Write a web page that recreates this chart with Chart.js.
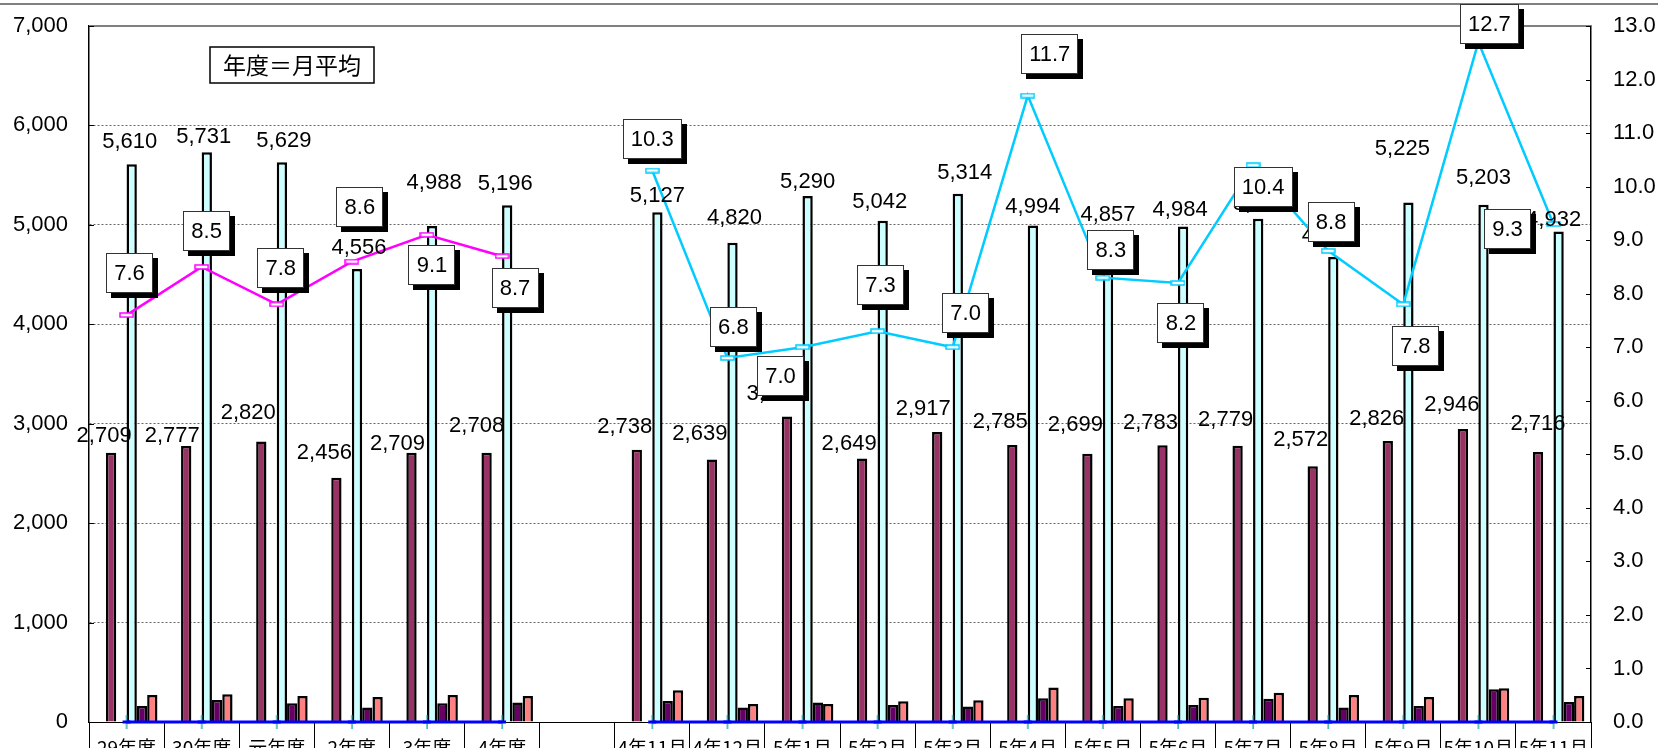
<!DOCTYPE html>
<html lang="ja">
<head>
<meta charset="utf-8">
<script src="https://cdn.jsdelivr.net/npm/chart.js@4.4.1/dist/chart.umd.min.js"></script>
<style>
  html, body { margin: 0; padding: 0; background: #fff; overflow: hidden; }
  #wrap { width: 1658px; height: 748px; }
</style>
</head>
<body>
<div id="wrap"><canvas id="chart" width="1658" height="748"></canvas></div>
<script>
// ---------------------------------------
// Data.
const categories = ["29年度", "30年度", "元年度", "2年度", "3年度", "4年度", "",
  "4年11月", "4年12月", "5年1月", "5年2月", "5年3月", "5年4月", "5年5月",
  "5年6月", "5年7月", "5年8月", "5年9月", "5年10月", "5年11月"];
const maroonValues = [2709, 2777, 2820, 2456, 2709, 2708, null,
  2738, 2639, 3073, 2649, 2917, 2785, 2699, 2783, 2779, 2572, 2826, 2946, 2716];
const cyanValues = [5610, 5731, 5629, 4556, 4988, 5196, null,
  5127, 4820, 5290, 5042, 5314, 4994, 4857, 4984, 5062, 4677, 5225, 5203, 4932];
const purpleValues = [161, 221, 188, 145, 188, 195, null,
  211, 145, 195, 171, 155, 238, 161, 171, 235, 145, 161, 329, 201];
const salmonValues = [272, 279, 262, 252, 272, 262, null,
  319, 181, 181, 208, 218, 346, 238, 245, 295, 272, 252, 339, 262];
const baseValues = [0, 0, 0, 0, 0, 0, null,
  0, 0, 0, 0, 0, 0, 0, 0, 0, 0, 0, 0, 0];
const yearRatio = [7.6, 8.5, 7.8, 8.6, 9.1, 8.7, null,
  null, null, null, null, null, null, null, null, null, null, null, null, null];
const monthRatio = [null, null, null, null, null, null, null,
  10.3, 6.8, 7.0, 7.3, 7.0, 11.7, 8.3, 8.2, 10.4, 8.8, 7.8, 12.7, 9.3];
const leftMax = 7000, leftStep = 1000;
const rightMax = 13, rightStep = 1;
const spacer = new Array(categories.length).fill(null); // empty bar slot

// ---------------------------------------
// Label placement (offsets from the bar top / line point, px).
const maroonLabelShift = [[-7, -17], [-14, -10], [-13, -29], [-12, -25], [-14, -9], [-10, -27], null,
  [-12, -23], [-12, -26], [-13, -23], [-13, -15], [-14, -23], [-12, -23], [-12, -29],
  [-12, -22], [-12, -26], [-12, -26], [-11, -22], [-11, -24], [0, -28]];
const cyanLabelShift = [[-2, -22], [-3, -15], [2, -21], [2, -21], [2, -43], [-2, -21], null,
  [0, -16], [2, -25], [0, -14], [-3, -19], [7, -21], [0, -19], [0, -24],
  [-3, -17], [2, -15], [-4, -21], [-6, -54], [0, -27], [-5, -12]];
const yearBoxShift = [[3, -42], [5, -36], [4, -36], [8, -55], [5, 30], [13, 32], null,
  null, null, null, null, null, null, null, null, null, null, null, null, null];
const monthBoxShift = [null, null, null, null, null, null, null,
  [0, -32], [6, -31], [-22, 29], [3, -46], [13, -34], [22, -42], [8, -28],
  [3, 40], [10, 22], [3, -29], [12, 42], [11, -18], [-46, 5]];

const NUM_FONT = "'Liberation Sans', Arial, sans-serif";
const JP_FONT = "'Noto Sans CJK JP', 'Noto Sans', sans-serif";

function hollowMarker(color) {
  let c = document.createElement("canvas");
  c.width = 15;
  c.height = 6;
  let g = c.getContext("2d");
  g.fillStyle = "#fff";
  g.fillRect(1, 1, 13, 4);
  g.strokeStyle = color;
  g.lineWidth = 1.5;
  g.strokeRect(1, 1, 13, 4);
  return c;
}
function baseMarker() {
  let c = document.createElement("canvas");
  c.width = 12;
  c.height = 14;
  let g = c.getContext("2d");
  g.fillStyle = "#009999";
  g.fillRect(5.5, 0, 1.2, 14);
  g.fillStyle = "#0000FF";
  g.fillRect(2, 5.5, 8, 3);
  return c;
}

// ---------------------------------------
// Labels, boxes and frame pieces.
const decorations = {
  id: "decorations",
  beforeDraw(chart) {
    let ctx = chart.ctx;
    ctx.save();
    ctx.strokeStyle = "#808080";
    ctx.lineWidth = 2;
    ctx.beginPath();
    ctx.moveTo(0, 4);
    ctx.lineTo(chart.width, 4);
    ctx.stroke();
    ctx.restore();
  },
  afterDatasetsDraw(chart) {
    let ctx = chart.ctx;
    let area = chart.chartArea;
    ctx.save();
    // top frame line of the plot
    ctx.strokeStyle = "#808080";
    ctx.lineWidth = 2;
    ctx.beginPath();
    ctx.moveTo(area.left, area.top);
    ctx.lineTo(area.right, area.top);
    ctx.stroke();

    // inner tick marks on both value axes
    ctx.strokeStyle = "#000";
    ctx.lineWidth = 1;
    let y = chart.scales.y;
    for (let v = 0; v <= leftMax; v += leftStep) {
      let p = Math.round(y.getPixelForValue(v)) + 0.5;
      ctx.beginPath();
      ctx.moveTo(area.left, p);
      ctx.lineTo(area.left + 5, p);
      ctx.stroke();
    }
    let y2 = chart.scales.y2;
    for (let v = 0; v <= rightMax; v += rightStep) {
      let p = Math.round(y2.getPixelForValue(v)) + 0.5;
      ctx.beginPath();
      ctx.moveTo(area.right - 5, p);
      ctx.lineTo(area.right, p);
      ctx.stroke();
    }

    // bar value labels
    ctx.font = "22px " + NUM_FONT;
    ctx.fillStyle = "#000";
    ctx.textAlign = "center";
    ctx.textBaseline = "middle";
    let barSets = [[1, maroonValues, maroonLabelShift], [3, cyanValues, cyanLabelShift]];
    for (let s = 0; s < barSets.length; s++) {
      let meta = chart.getDatasetMeta(barSets[s][0]);
      let values = barSets[s][1];
      let shift = barSets[s][2];
      meta.data.forEach((el, i) => {
        if (values[i] == null || !shift[i]) return;
        ctx.fillText(values[i].toLocaleString("en-US"), el.x + shift[i][0], el.y + shift[i][1]);
      });
    }

    // boxed labels of the two ratio lines
    let boxSets = [[6, yearRatio, yearBoxShift], [7, monthRatio, monthBoxShift]];
    for (let s = 0; s < boxSets.length; s++) {
      let meta = chart.getDatasetMeta(boxSets[s][0]);
      let values = boxSets[s][1];
      let shift = boxSets[s][2];
      meta.data.forEach((el, i) => {
        if (values[i] == null || !shift[i]) return;
        let text = values[i].toFixed(1);
        let w = Math.round(ctx.measureText(text).width) + 16;
        let h = 40;
        let cx = el.x + shift[i][0];
        let cy = el.y + shift[i][1];
        let x0 = Math.round(cx - w / 2);
        let y0 = Math.round(cy - h / 2);
        ctx.fillStyle = "#000";
        ctx.fillRect(x0 + 5, y0 + 5, w, h);
        ctx.fillStyle = "#fff";
        ctx.fillRect(x0, y0, w, h);
        ctx.strokeStyle = "#333";
        ctx.lineWidth = 1;
        ctx.strokeRect(x0 + 0.5, y0 + 0.5, w - 1, h - 1);
        ctx.fillStyle = "#000";
        ctx.fillText(text, cx, cy + 1);
      });
    }

    // note box
    ctx.fillStyle = "#fff";
    ctx.fillRect(area.left + 121, area.top + 21, 164, 36);
    ctx.strokeStyle = "#000";
    ctx.lineWidth = 1.5;
    ctx.strokeRect(area.left + 121, area.top + 21, 164, 36);
    ctx.fillStyle = "#000";
    ctx.font = "23px " + JP_FONT;
    ctx.fillText("年度＝月平均", area.left + 203, area.top + 39);
    ctx.restore();
  },
};

let canvas = document.getElementById("chart");
let chart = new Chart(canvas, {
  data: {
    labels: categories,
    datasets: [
      { type: "bar", label: "", data: spacer, yAxisID: "y", order: 1 },
      { type: "bar", label: "A", data: maroonValues, backgroundColor: "#993366",
        borderColor: "#000", borderWidth: 2.5, yAxisID: "y", order: 1 },
      { type: "bar", label: "", data: spacer, yAxisID: "y", order: 1 },
      { type: "bar", label: "B", data: cyanValues, backgroundColor: "#CCFFFF",
        borderColor: "#000", borderWidth: 2.5, yAxisID: "y", order: 1 },
      { type: "bar", label: "C", data: purpleValues, backgroundColor: "#660066",
        borderColor: "#000", borderWidth: 2.5, yAxisID: "y", order: 1 },
      { type: "bar", label: "D", data: salmonValues, backgroundColor: "#FF8080",
        borderColor: "#000", borderWidth: 2.5, yAxisID: "y", order: 1 },
      { type: "line", label: "E", data: yearRatio, borderColor: "#FF00FF", borderWidth: 2.5,
        pointStyle: hollowMarker("#FF00FF"), pointRadius: 6, yAxisID: "y2", order: 0, spanGaps: false },
      { type: "line", label: "F", data: monthRatio, borderColor: "#00CCFF", borderWidth: 2.5,
        pointStyle: hollowMarker("#00CCFF"), pointRadius: 6, yAxisID: "y2", order: 0, spanGaps: false },
      { type: "line", label: "G", data: baseValues, borderColor: "#0000FF", borderWidth: 3,
        pointStyle: baseMarker(), pointRadius: 6, yAxisID: "y", order: 0, clip: false, spanGaps: false },
    ],
  },
  options: {
    responsive: false,
    animation: false,
    events: [],
    layout: { padding: { top: 26, left: 0, right: 0, bottom: 0 } },
    datasets: { bar: { categoryPercentage: 0.823, barPercentage: 1.0 } },
    plugins: { legend: { display: false }, tooltip: { enabled: false } },
    scales: {
      x: {
        offset: true,
        grid: { offset: true, drawOnChartArea: false, drawTicks: true, tickLength: 26,
          tickColor: "#000", tickWidth: 1, color: "#000" },
        border: { display: true, color: "#000", width: 1 },
        ticks: { autoSkip: false, maxRotation: 0, minRotation: 0, padding: -12, color: "#000",
          font: { family: JP_FONT, size: 19 } },
        afterFit: (scale) => { scale.height = 26; },
      },
      y: {
        position: "left",
        min: 0,
        max: leftMax,
        ticks: { stepSize: leftStep, padding: 0, color: "#000", font: { family: NUM_FONT, size: 22 },
          callback: (v) => v.toLocaleString("en-US") },
        grid: { drawTicks: true, tickLength: 21, tickColor: "rgba(0,0,0,0)", lineWidth: 1,
          color: (c) => (c.tick && (c.tick.value === 0 || c.tick.value === leftMax) ? "rgba(0,0,0,0)" : "#666") },
        border: { color: "#000", width: 1.5, dash: [2, 2] },
        afterFit: (scale) => { scale.width = 89; },
      },
      y2: {
        position: "right",
        min: 0,
        max: rightMax,
        ticks: { stepSize: rightStep, padding: 0, color: "#000", font: { family: NUM_FONT, size: 22 },
          callback: (v) => v.toFixed(1) },
        grid: { drawOnChartArea: false, drawTicks: true, tickLength: 22, tickColor: "rgba(0,0,0,0)" },
        border: { color: "#000", width: 1.5 },
        afterFit: (scale) => { scale.width = 67; },
      },
    },
  },
  plugins: [decorations],
});
</script>
</body>
</html>
